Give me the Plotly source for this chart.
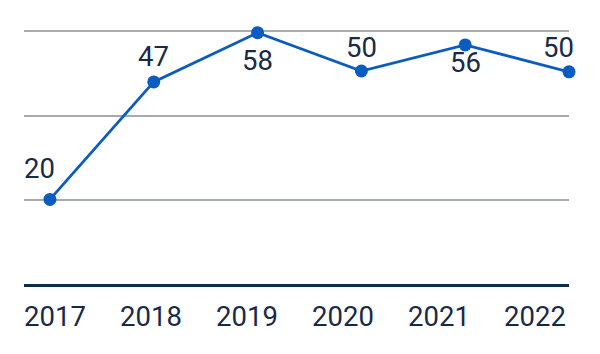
import plotly.graph_objects as go

years = ["2017", "2018", "2019", "2020", "2021", "2022"]
values = [20.1, 48.0, 59.7, 50.6, 56.8, 50.4]
labels = ["20", "47", "58", "50", "56", "50"]

# label offsets in pixels (style, not data)
label_dx = [-10, 0, 0, 0, 0, -11]
label_dy = [31, 25, -28, 23, -18, 24]

LINE = "#0b5cc0"
TEXT = "#182a46"
FONT = "Roboto"

idx = list(range(len(years)))

fig = go.Figure()
fig.add_trace(go.Scatter(
    x=idx, y=values, mode="lines+markers",
    line=dict(color=LINE, width=2.8),
    marker=dict(color=LINE, size=13),
    cliponaxis=False, hoverinfo="skip", showlegend=False,
))
# invisible trace to activate the label axis
fig.add_trace(go.Scatter(x=years, y=values, xaxis="x2", mode="markers",
                         marker=dict(opacity=0), hoverinfo="skip", showlegend=False))

for i, (v, t) in enumerate(zip(values, labels)):
    fig.add_annotation(x=idx[i], y=v, text=t, showarrow=False,
                       xshift=label_dx[i], yshift=label_dy[i],
                       yanchor="middle", xanchor="center",
                       font=dict(family=FONT, size=27.5, color=TEXT))

fig.update_layout(
    width=600, height=354,
    margin=dict(l=24, r=31, t=23, b=70),
    paper_bgcolor="white", plot_bgcolor="white",
    xaxis=dict(range=[-0.25, 5.0], showgrid=False, zeroline=False,
               showticklabels=False, showline=True, linecolor="#0f2d4f",
               linewidth=3, ticks=""),
    xaxis2=dict(type="category", overlaying="x", side="bottom",
                range=[-0.323, 5.354], showgrid=False, zeroline=False,
                showline=False, ticks="", ticklabelstandoff=13,
                tickfont=dict(family=FONT, size=27.5, color=TEXT)),
    yaxis=dict(range=[0, 62], tickvals=[20, 40, 60], showticklabels=False,
               showgrid=True, gridcolor="#a6abb2", gridwidth=1.5,
               zeroline=False, showline=False, ticks=""),
)

fig.write_html("out.html")
